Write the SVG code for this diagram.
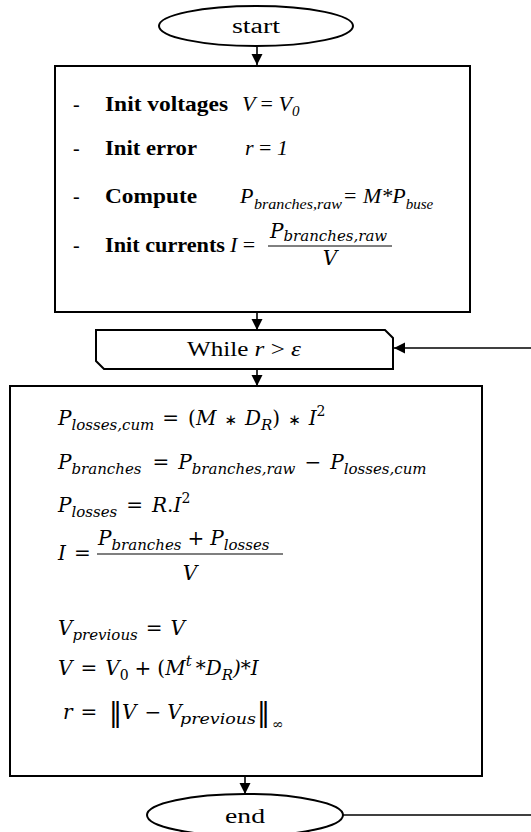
<svg xmlns="http://www.w3.org/2000/svg" width="531" height="832" viewBox="0 0 531 832">
<style>
.shape{fill:#fff;stroke:#000;stroke-width:2}
.conn{fill:none;stroke:#000;stroke-width:1.6}
.t{font-family:"Liberation Serif",serif;font-size:20px;fill:#000}
.b{font-family:"Liberation Serif",serif;font-size:22px;font-weight:bold;fill:#000}
.m{font-family:"Liberation Serif",serif;font-size:22px;font-style:italic;fill:#000}
.mr{font-family:"Liberation Serif",serif;font-size:22px;font-style:normal;fill:#000}
.s{font-family:"Liberation Serif",serif;font-size:15px;font-style:italic;fill:#000}
.x{font-family:"DejaVu Serif",serif;font-size:20px;font-style:italic;fill:#000}
.xr{font-family:"DejaVu Serif",serif;font-size:20px;font-style:normal}
.xs{font-family:"DejaVu Serif",serif;font-size:15px;font-style:italic}
.xsr{font-family:"DejaVu Serif",serif;font-size:14px;font-style:normal}
.op{font-family:"DejaVu Sans",sans-serif;font-size:15px;font-style:normal}
.nb{font-family:"DejaVu Sans",sans-serif;font-size:26px;font-style:normal;fill:#000}
</style>
<defs>
<marker id="ah" viewBox="0 0 10 10" refX="10" refY="5" markerWidth="11" markerHeight="12" markerUnits="userSpaceOnUse" orient="auto">
<path d="M0,0 L10,5 L0,10 Z" fill="#000"/>
</marker>
</defs>
<g id="connectors">
<line class="conn" x1="257" y1="47" x2="257" y2="65" marker-end="url(#ah)"/>
<line class="conn" x1="257" y1="313" x2="257" y2="330" marker-end="url(#ah)"/>
<line class="conn" x1="531" y1="348" x2="394" y2="348" marker-end="url(#ah)"/>
<line class="conn" x1="257" y1="369" x2="257" y2="386" marker-end="url(#ah)"/>
<line class="conn" x1="245" y1="777" x2="245" y2="794" marker-end="url(#ah)"/>
<line class="conn" x1="343" y1="815" x2="531" y2="815"/>
</g>
<g id="start">
<ellipse class="shape" cx="256" cy="26" rx="97" ry="20"/>
<text class="t" x="256" y="33" text-anchor="middle" textLength="48" lengthAdjust="spacingAndGlyphs">start</text>
</g>
<g id="init">
<rect class="shape" x="55" y="66" width="415" height="246"/>
<text class="t" x="73" y="111">-</text>
<text class="b" x="105" y="111" textLength="123" lengthAdjust="spacingAndGlyphs">Init voltages</text>
<text class="m" x="242" y="111">V <tspan class="mr">=</tspan> V<tspan class="s" dy="5">0</tspan></text>
<text class="t" x="73" y="155">-</text>
<text class="b" x="105" y="155" textLength="92" lengthAdjust="spacingAndGlyphs">Init error</text>
<text class="m" x="245" y="155">r <tspan class="mr">=</tspan> 1</text>
<text class="t" x="73" y="203">-</text>
<text class="b" x="105" y="203" textLength="92" lengthAdjust="spacingAndGlyphs">Compute</text>
<text class="m" x="240" y="203">P</text>
<text class="s" x="254" y="209" textLength="88" lengthAdjust="spacingAndGlyphs">branches,raw</text>
<text class="mr" x="344" y="203">=</text>
<text class="m" x="363" y="203">M*P<tspan class="s" dy="6">buse</tspan></text>
<text class="t" x="73" y="252">-</text>
<text class="b" x="105" y="252" textLength="120" lengthAdjust="spacingAndGlyphs">Init currents</text>
<text class="m" x="230" y="252">I <tspan class="mr">=</tspan></text>
<text class="x" x="270" y="238" font-size="15">P<tspan class="xs" font-size="12" dy="3">branches,raw</tspan></text>
<line x1="268" y1="246" x2="392" y2="246" stroke="#000" stroke-width="1"/>
<text class="x" x="330" y="265" font-size="13" text-anchor="middle">V</text>
</g>
<g id="while">
<path class="shape" d="M96,330 H385 L393,338 V369 H104 L96,361 Z"/>
<text class="t" x="187" y="356" font-size="21" textLength="114" lengthAdjust="spacingAndGlyphs">While <tspan font-style="italic">r</tspan> &gt; <tspan font-style="italic">ε</tspan></text>
</g>
<g id="loop">
<rect class="shape" x="10" y="386" width="472" height="390"/>
<text class="x" x="58" y="425">P<tspan class="xs" dy="5">losses,cum</tspan><tspan class="xr" dy="-5" dx="8">=</tspan><tspan class="xr" dx="9">(</tspan>M<tspan class="op" dx="8">∗</tspan><tspan dx="8">D</tspan><tspan class="xs" dy="5">R</tspan><tspan class="xr" dy="-5">)</tspan><tspan class="op" dx="8">∗</tspan><tspan dx="8">I</tspan><tspan class="xsr" dy="-9">2</tspan></text>

<text class="x" x="58" y="469">P<tspan class="xs" font-size="16" dy="5">branches</tspan><tspan class="xr" dy="-5" dx="11">=</tspan><tspan dx="9">P</tspan><tspan class="xs" font-size="16" dy="5">branches,raw</tspan><tspan class="xr" dy="-5" dx="9">−</tspan><tspan dx="9">P</tspan><tspan class="xs" font-size="16" dy="5">losses,cum</tspan></text>

<text class="x" x="58" y="512">P<tspan class="xs" dy="5">losses</tspan><tspan class="xr" dy="-5" dx="9">=</tspan><tspan dx="9">R</tspan><tspan class="xr">.</tspan>I<tspan class="xsr" dy="-9">2</tspan></text>

<text class="x" x="58" y="560">I<tspan class="xr" dx="8">=</tspan></text>
<text class="x" x="98" y="545">P<tspan class="xs" dy="5">branches</tspan><tspan class="xr" dy="-5" dx="6">+</tspan><tspan dx="6">P</tspan><tspan class="xs" dy="5">losses</tspan></text>
<line x1="97" y1="554" x2="283" y2="554" stroke="#000" stroke-width="1.2"/>
<text class="x" x="190" y="580" text-anchor="middle">V</text>

<text class="x" x="58" y="635">V<tspan class="xs" dy="5">previous</tspan><tspan class="xr" dy="-5" dx="8">=</tspan><tspan dx="8">V</tspan></text>

<text class="x" x="58" y="675">V<tspan class="xr" dx="8">=</tspan><tspan dx="8">V</tspan><tspan class="xsr" dy="5">0</tspan><tspan class="xr" dy="-5" dx="6">+</tspan><tspan class="xr" dx="6">(</tspan>M<tspan class="xs" font-size="13" dy="-9">t</tspan><tspan dy="9" dx="4">*D</tspan><tspan class="xs" dy="5">R</tspan><tspan dy="-5">)*I</tspan></text>

<text class="x" x="63" y="719">r<tspan class="xr" dx="8">=</tspan></text>
<text class="nb" x="109" y="721">‖</text>
<text class="x" x="122" y="719">V<tspan class="xr" dx="8">−</tspan><tspan dx="6">V</tspan></text>
<text class="xs" x="180" y="724" font-size="16" textLength="76" lengthAdjust="spacingAndGlyphs">previous</text>
<text class="nb" x="257" y="721">‖</text>
<text class="xsr" x="272" y="729">∞</text>
</g>
<g id="end">
<ellipse class="shape" cx="245" cy="815" rx="98" ry="21"/>
<text class="t" x="245" y="823" text-anchor="middle" textLength="40" lengthAdjust="spacingAndGlyphs">end</text>
</g>
</svg>
